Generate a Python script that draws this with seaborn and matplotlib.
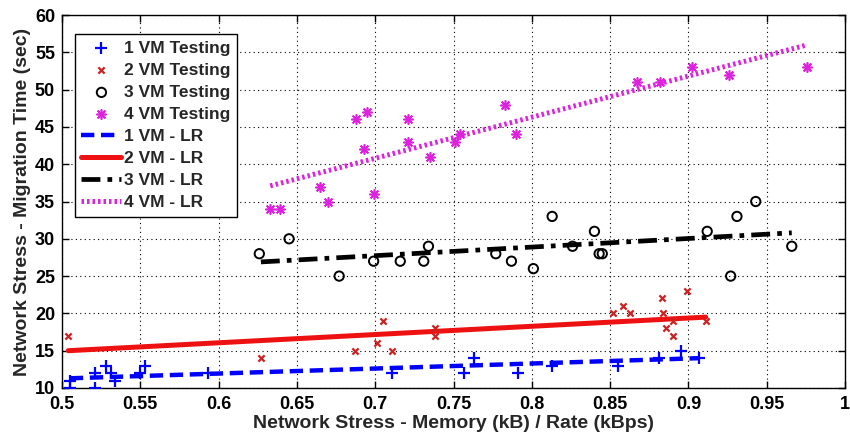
import numpy as np
import pandas as pd
import matplotlib
matplotlib.use("Agg")
import matplotlib.pyplot as plt
import seaborn as sns
from matplotlib.ticker import FormatStrFormatter, MultipleLocator

# ---- data ----
vm1_x = [0.505, 0.505, 0.521, 0.521, 0.528, 0.531, 0.534, 0.550, 0.553, 0.593,
         0.711, 0.757, 0.763, 0.791, 0.813, 0.855, 0.881, 0.895, 0.907]
vm1_y = [10, 11, 10, 12, 13, 12, 11, 12, 13, 12, 12, 12, 14, 12, 13, 13, 14, 15, 14]

vm2_x = [0.504, 0.627, 0.687, 0.701, 0.705, 0.711, 0.738, 0.738, 0.852, 0.858,
         0.863, 0.883, 0.884, 0.886, 0.890, 0.890, 0.899, 0.911]
vm2_y = [17, 14, 15, 16, 19, 15, 18, 17, 20, 21, 20, 22, 20, 18, 19, 17, 23, 19]

vm3_x = [0.626, 0.645, 0.677, 0.699, 0.716, 0.731, 0.734, 0.777, 0.787, 0.801,
         0.813, 0.826, 0.840, 0.843, 0.845, 0.912, 0.927, 0.931, 0.943, 0.966]
vm3_y = [28, 30, 25, 27, 27, 27, 29, 28, 27, 26, 33, 29, 31, 28, 28, 31, 25, 33, 35, 29]

vm4_x = [0.633, 0.639, 0.665, 0.670, 0.688, 0.693, 0.695, 0.699, 0.721, 0.721,
         0.735, 0.751, 0.754, 0.783, 0.790, 0.867, 0.882, 0.902, 0.926, 0.976]
vm4_y = [34, 34, 37, 35, 46, 42, 47, 36, 46, 43, 41, 43, 44, 48, 44, 51, 51, 53, 52, 53]

# regression line end points
lr1_x = [0.505, 0.907]
lr1_y = [11.3, 14.0]
lr2_x = [0.504, 0.911]
lr2_y = [15.0, 19.5]
lr3_x = [0.627, 0.966]
lr3_y = [26.9, 30.8]
lr4_x = [0.633, 0.976]
lr4_y = [37.1, 56.0]

scatter_labels = ["1 VM Testing", "2 VM Testing", "3 VM Testing", "4 VM Testing"]
line_labels = ["1 VM - LR", "2 VM - LR", "3 VM - LR", "4 VM - LR"]
x_label = "Network Stress - Memory (kB) / Rate (kBps)"
y_label = "Network Stress - Migration Time (sec)"

# ---- style ----
sns.set_theme(style="ticks")
plt.rcParams["font.family"] = ["Liberation Sans", "DejaVu Sans"]
plt.rcParams["font.weight"] = "bold"
plt.rcParams["axes.labelweight"] = "bold"

fig = plt.figure(figsize=(8.5, 4.42), dpi=100)
ax = fig.add_axes([62 / 850, 1 - 388 / 442, (845 - 62) / 850, (388 - 15) / 442])

blue = "#0000ff"
red = "#ee1111"
black = "#000000"
magenta = "#dd22dd"

sns.scatterplot(x=vm1_x, y=vm1_y, marker="+", color=blue, s=65, linewidth=1.6,
                label=scatter_labels[0], ax=ax, zorder=3)
sns.scatterplot(x=vm2_x, y=vm2_y, marker="x", color="#cc2222", s=20, linewidth=1.6,
                label=scatter_labels[1], ax=ax, zorder=3)
sns.scatterplot(x=vm3_x, y=vm3_y, marker="o", facecolor="none", edgecolor=black,
                s=45, linewidth=1.4, label=scatter_labels[2], ax=ax, zorder=3)
sns.scatterplot(x=vm4_x, y=vm4_y, marker=(8, 2, 0), color=magenta, s=45, linewidth=1.2,
                label=scatter_labels[3], ax=ax, zorder=3)

sns.lineplot(x=lr1_x, y=lr1_y, color=blue, linestyle=(0, (3, 1.5)), linewidth=3.2,
             label=line_labels[0], ax=ax, zorder=2)
sns.lineplot(x=lr2_x, y=lr2_y, color=red, linestyle="-", linewidth=3.6,
             label=line_labels[1], ax=ax, zorder=2)
sns.lineplot(x=lr3_x, y=lr3_y, color=black, linestyle=(0, (4, 1.5, 1, 1.5)), linewidth=3.4,
             label=line_labels[2], ax=ax, zorder=2)
sns.lineplot(x=lr4_x, y=lr4_y, color=magenta, linestyle=(0, (0.5, 0.6)), linewidth=3.6,
             label=line_labels[3], ax=ax, zorder=2)

ax.set_xlim(0.5, 1.0)
ax.set_ylim(10, 60)
ax.xaxis.set_major_locator(MultipleLocator(0.05))
ax.yaxis.set_major_locator(MultipleLocator(5))
ax.xaxis.set_major_formatter(FormatStrFormatter("%g"))
ax.yaxis.set_major_formatter(FormatStrFormatter("%g"))

ax.grid(True, color="black", linestyle=(0, (1, 3)), linewidth=0.8)
ax.tick_params(direction="in", top=True, right=True, length=5, width=1,
               labelsize=13, colors="black")
ax.tick_params(axis="x", pad=6)
ax.tick_params(axis="y", pad=5)
for lab in ax.get_xticklabels() + ax.get_yticklabels():
    lab.set_fontweight("bold")
for sp in ax.spines.values():
    sp.set_color("black")
    sp.set_linewidth(1.0)
    sp.set_visible(True)

ax.set_xlabel(x_label, fontsize=14, fontweight="bold", labelpad=1)
ax.set_ylabel(y_label, fontsize=14, fontweight="bold", labelpad=3)

leg = ax.legend(loc="upper left", bbox_to_anchor=(0.016, 0.95), fontsize=12.5,
                frameon=True, fancybox=False, edgecolor="black", framealpha=1,
                handlelength=2.3, handletextpad=0.15, borderpad=0.4,
                labelspacing=0.4, borderaxespad=0)
leg.get_frame().set_linewidth(1.0)
for t in leg.get_texts():
    t.set_fontweight("bold")

fig.savefig("out.png", dpi=100, facecolor="white")
